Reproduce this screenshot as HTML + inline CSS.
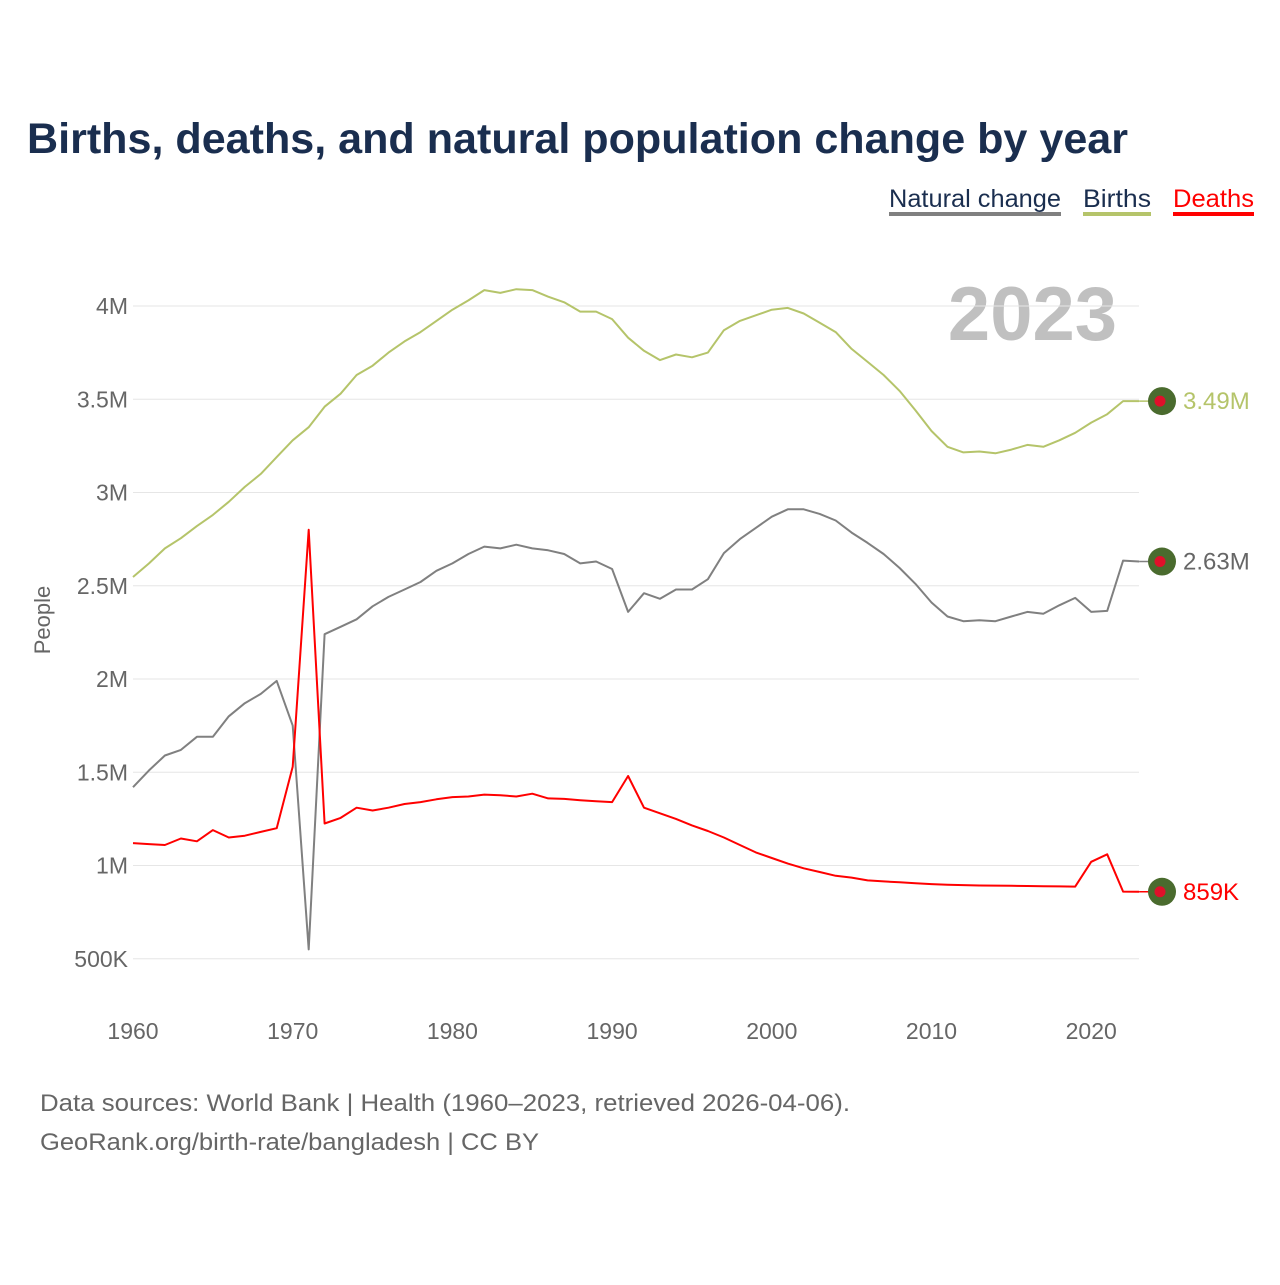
<!DOCTYPE html>
<html><head><meta charset="utf-8"><style>
body{margin:0;background:#fff;width:1280px;height:1280px;overflow:hidden;font-family:"Liberation Sans",sans-serif}
svg text{font-family:"Liberation Sans",sans-serif}
</style></head><body>
<svg id="chart" width="1280" height="1280" viewBox="0 0 1280 1280">
<text x="27" y="153" font-size="43" font-weight="bold" fill="#1a2e4f" textLength="1101" lengthAdjust="spacingAndGlyphs">Births, deaths, and natural population change by year</text>
<g font-size="25">
<text x="889" y="207" fill="#1a2e4f" textLength="172" lengthAdjust="spacingAndGlyphs">Natural change</text>
<rect x="889" y="212" width="172" height="4" fill="#808080"/>
<text x="1083" y="207" fill="#1a2e4f" textLength="68" lengthAdjust="spacingAndGlyphs">Births</text>
<rect x="1083" y="212" width="68" height="4" fill="#b5c46a"/>
<text x="1173" y="207" fill="#ff0000" textLength="81" lengthAdjust="spacingAndGlyphs">Deaths</text>
<rect x="1173" y="212" width="81" height="4" fill="#ff0000"/>
</g>
<text x="1117" y="340" text-anchor="end" font-size="76" font-weight="bold" fill="#c0c0c0">2023</text>
<text transform="translate(50,620) rotate(-90)" text-anchor="middle" font-size="22" fill="#666">People</text>
<g id="grid"></g><g id="series"></g><g id="marks"></g>
<text x="40" y="1111" font-size="24" fill="#666" textLength="810" lengthAdjust="spacingAndGlyphs">Data sources: World Bank | Health (1960–2023, retrieved 2026-04-06).</text>
<text x="40" y="1150" font-size="24" fill="#666" textLength="499" lengthAdjust="spacingAndGlyphs">GeoRank.org/birth-rate/bangladesh | CC BY</text>
</svg>
<script>
const startYear = 1960;
const births = [2.547,2.62,2.70,2.755,2.82,2.88,2.95,3.03,3.10,3.19,3.28,3.35,3.46,3.53,3.63,3.68,3.75,3.81,3.86,3.92,3.98,4.03,4.085,4.07,4.09,4.085,4.05,4.02,3.97,3.97,3.93,3.83,3.76,3.71,3.74,3.725,3.75,3.87,3.92,3.95,3.98,3.99,3.96,3.91,3.86,3.77,3.70,3.63,3.545,3.44,3.33,3.245,3.215,3.22,3.21,3.23,3.255,3.245,3.28,3.32,3.375,3.42,3.49,3.49];
const naturalChange = [1.42,1.51,1.59,1.62,1.69,1.69,1.80,1.87,1.92,1.99,1.75,0.55,2.24,2.28,2.32,2.39,2.44,2.48,2.52,2.58,2.62,2.67,2.71,2.70,2.72,2.70,2.69,2.67,2.62,2.63,2.59,2.36,2.46,2.43,2.48,2.48,2.535,2.675,2.75,2.81,2.87,2.91,2.91,2.885,2.85,2.785,2.73,2.67,2.595,2.51,2.41,2.335,2.31,2.315,2.31,2.335,2.36,2.35,2.395,2.435,2.36,2.365,2.635,2.63];
const deaths = [1.12,1.115,1.11,1.145,1.13,1.19,1.15,1.16,1.18,1.20,1.53,2.80,1.225,1.255,1.31,1.295,1.31,1.33,1.34,1.355,1.367,1.37,1.38,1.377,1.37,1.385,1.36,1.357,1.35,1.345,1.34,1.48,1.31,1.28,1.25,1.215,1.185,1.15,1.11,1.07,1.04,1.01,0.985,0.965,0.945,0.935,0.92,0.915,0.91,0.905,0.90,0.897,0.895,0.893,0.892,0.891,0.89,0.889,0.888,0.887,1.02,1.06,0.86,0.859];
const yTicks = [0.5,1,1.5,2,2.5,3,3.5,4];
const yTickLabels = ["500K","1M","1.5M","2M","2.5M","3M","3.5M","4M"];
const xTicks = [1960,1970,1980,1990,2000,2010,2020];
const endLabels = ["2.63M","3.49M","859K"];

const NS="http://www.w3.org/2000/svg";
function xs(yr){return 133+(yr-1960)*15.97;}
function ys(v){return 306+(4-v)*186.5;}
function mk(tag,attrs,parent){const e=document.createElementNS(NS,tag);for(const k in attrs)e.setAttribute(k,attrs[k]);parent.appendChild(e);return e;}
const grid=document.getElementById('grid'),series=document.getElementById('series'),marks=document.getElementById('marks');
yTicks.forEach((t,i)=>{
  const l=mk('line',{x1:133,x2:1139,y1:ys(t),y2:ys(t),stroke:'#e6e6e6','stroke-width':1},grid);
  
  
  const tx=mk('text',{x:128,y:ys(t)+8,'text-anchor':'end','font-size':23,fill:'#666'},grid);
  tx.textContent=yTickLabels[i];
  
  
});
xTicks.forEach(t=>{
  const tx=mk('text',{x:xs(t),y:1039,'text-anchor':'middle','font-size':23,fill:'#666'},grid);
  tx.textContent=t;
  
  
});
const defs=[[naturalChange,'#808080','natural-change-line','#666',endLabels[0]],[births,'#b5c46a','births-line','#b5c46a',endLabels[1]],[deaths,'#ff0000','deaths-line','#ff0000',endLabels[2]]];
defs.forEach(([d,c,name,lc,lab])=>{
  const pts=d.map((v,i)=>xs(startYear+i).toFixed(1)+','+ys(v).toFixed(1)).join(' ');
  const p=mk('polyline',{points:pts,fill:'none',stroke:c,'stroke-width':2,'stroke-linejoin':'round'},series);
  
  
  const last=d[d.length-1],ly=ys(last),lx=xs(startYear+d.length-1);
  mk('line',{x1:lx,x2:1162,y1:ly,y2:ly,stroke:c,'stroke-width':1.5},marks);
  const o=mk('circle',{cx:1162,cy:ly,r:14,fill:'#4a6b2e'},marks);
  
  
  mk('circle',{cx:1160,cy:ly,r:5.5,fill:'#e0102a'},marks);
  const t=mk('text',{x:1183,y:ly+8,'font-size':24,fill:lc},marks);
  t.textContent=lab;
  
  
});
</script>
</body></html>
